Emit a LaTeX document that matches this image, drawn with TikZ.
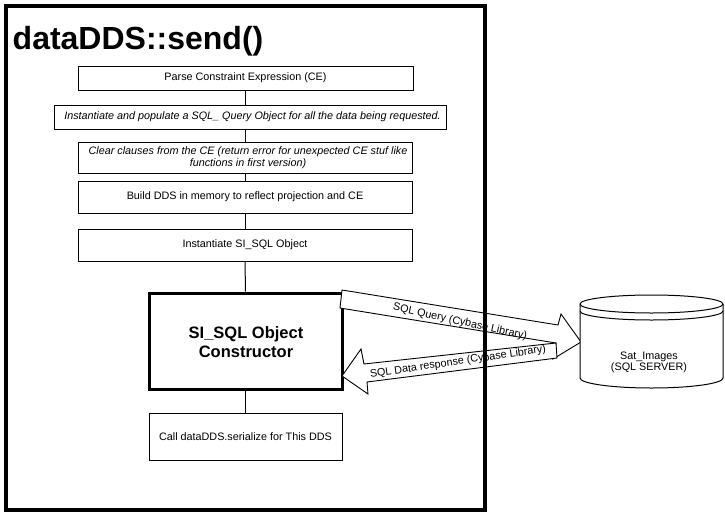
\documentclass[tikz,border=0pt]{standalone}
\usepackage{fontspec}
\setmainfont{Liberation Sans}
\begin{document}
\begin{tikzpicture}[x=1pt,y=-1pt,
  stepbox/.style={draw=black,line width=1pt,fill=white,rectangle,inner sep=0pt},
  txt/.style={font=\fontsize{10.8}{12.5}\selectfont,inner sep=0pt,align=center},
  itxt/.style={font=\fontsize{10.8}{12.5}\selectfont\itshape,inner sep=0pt,align=center},
  link/.style={draw=black,line width=1pt},
  blockarrow/.style={draw=black,line width=0.9pt,fill=white,line join=miter}]
\useasboundingbox (0,0) rectangle (725,514);
\fill[white] (0,0) rectangle (725,514);

% title
\node[anchor=base west,inner sep=0pt,font=\fontsize{32}{36}\selectfont\bfseries] (title) at (12.5,49) {dataDDS::send()};

% steps
\node[stepbox,minimum width=335pt,minimum height=24pt] (b1) at (245.5,78) {};
\node[txt] at (b1) {Parse Constraint Expression (CE)};
\node[stepbox,minimum width=392pt,minimum height=24pt] (b2) at (250,117) {};
\node[itxt] at (252.5,117) {Instantiate and populate a SQL\_ Query Object for all the data being requested.};
\node[stepbox,minimum width=334pt,minimum height=31pt] (b3) at (245,157.5) {};
\node[itxt] at (248,157.5) {Clear clauses from the CE (return error for unexpected CE stuf like\\functions in first version)};
\node[stepbox,minimum width=334pt,minimum height=32pt] (b4) at (245,197) {};
\node[txt] at (b4) {Build DDS in memory to reflect projection and CE};
\node[stepbox,minimum width=334pt,minimum height=32pt] (b5) at (245,245) {};
\node[txt] at (b5) {Instantiate SI\_SQL Object};
\node[stepbox,line width=3pt,minimum width=193pt,minimum height=96pt] (b6) at (245.5,341) {};
\node[inner sep=0pt,align=center,font=\fontsize{16.5}{19}\selectfont\bfseries] at (246,342) {SI\_SQL Object\\Constructor};
\node[stepbox,minimum width=193pt,minimum height=47pt] (b7) at (245.5,436.5) {};
\node[txt] at (b7) {Call dataDDS.serialize for This DDS};

% connectors
\draw[link] (b1.south) -- (b1.south |- b2.north);
\draw[link] (b1.south |- b2.south) -- (b1.south |- b3.north);
\draw[link] (b3.south) -- (b4.north);
\draw[link] (b4.south) -- (b5.north);
\draw[link] (b5.south) -- (b6.north);
\draw[link] (b6.south) -- (b7.north);

% block arrows
\draw[blockarrow] (342,290) -- (558,325) -- (561,314) -- (581,342) -- (553,359) -- (556,343) -- (340,308) -- cycle;
\draw[blockarrow] (342,376) -- (361,349) -- (364,364) -- (556,343) -- (557,358) -- (367,382) -- (368,394) -- cycle;
\node[txt,rotate=-12.5] (q) at (460,322) {SQL Query (Cybase Library)};
\node[txt,rotate=8.3] (r) at (458,362) {SQL Data response (Cybase Library)};

% database cylinder
\coordinate (db) at (651.5,341);
\draw[line width=1pt,fill=white] (580,304) -- (580,378) arc[start angle=180,end angle=360,x radius=71.5pt,y radius=10pt] -- (723,304);
\draw[line width=1pt,fill=white] (651.5,304) ellipse [x radius=71.5pt,y radius=9pt];
\draw[line width=1pt] (580,311) arc[start angle=180,end angle=360,x radius=71.5pt,y radius=9pt];
\node[txt,font=\fontsize{10.8}{11}\selectfont] (dbt) at (649,362) {Sat\_Images\\(SQL SERVER)};

% outer frame
\draw[line width=4pt] (5.5,5.5) rectangle (484.5,509.5);
\end{tikzpicture}
\end{document}
